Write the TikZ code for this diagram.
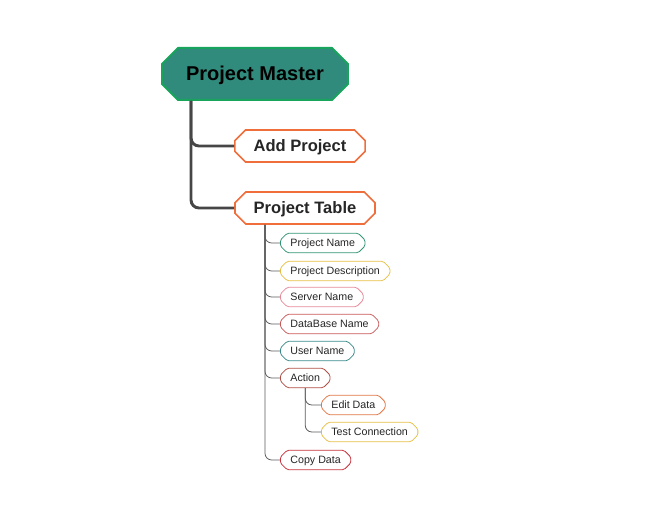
\documentclass[tikz,border=0pt]{standalone}
\usepackage{fontspec}
\setmainfont{Liberation Sans}
\usetikzlibrary{shapes.misc}
\definecolor{masterfill}{RGB}{49,139,124}
\definecolor{masterline}{RGB}{24,164,92}
\definecolor{tangerine}{RGB}{240,110,60}
\definecolor{stem}{RGB}{70,70,70}
\definecolor{twiggray}{RGB}{90,90,90}
\definecolor{jade}{RGB}{52,150,120}
\definecolor{mustard}{RGB}{232,192,70}
\definecolor{rose}{RGB}{232,140,155}
\definecolor{brick}{RGB}{200,90,90}
\definecolor{teal2}{RGB}{60,140,140}
\definecolor{rust}{RGB}{176,80,70}
\definecolor{coral}{RGB}{225,120,70}
\definecolor{crimson}{RGB}{200,50,60}
\tikzset{
  master/.style={chamfered rectangle,chamfered rectangle xsep=6pt,chamfered rectangle ysep=6pt,
    draw=masterline,fill=masterfill,line width=1.5pt,minimum height=39pt,inner xsep=12pt,
    text height=11pt,text depth=0.5pt,font=\fontsize{15}{18}\selectfont\bfseries},
  branch/.style={chamfered rectangle,chamfered rectangle xsep=4pt,chamfered rectangle ysep=4pt,
    draw=tangerine,fill=white,line width=1.2pt,minimum height=24pt,inner xsep=10pt,
    text height=9pt,text depth=0.3pt,font=\fontsize{12.4}{15}\selectfont\bfseries,text=black!85},
  leaf/.style={chamfered rectangle,chamfered rectangle xsep=2.5pt,chamfered rectangle ysep=2.5pt,
    draw=#1,fill=white,line width=0.6pt,rounded corners=1.2pt,minimum height=14.5pt,inner xsep=5pt,inner ysep=1pt,
    text height=6pt,text depth=0.5pt,font=\fontsize{8}{10}\selectfont,text=black!85,anchor=west},
  leaf/.default=jade,
  trunk/.style={draw=stem,line width=2.2pt,rounded corners=6pt},
  twig/.style={draw=twiggray,line width=0.6pt,rounded corners=5pt},
}
\begin{document}
\begin{tikzpicture}[x=0.75pt,y=-0.75pt]
  \useasboundingbox (0,0) rectangle (668,528);
  % top level
  \node[master] (pm) at (255,74) {Project Master};
  \node[branch] (ap) at (300,146) {Add Project};
  \node[branch] (pt) at (305,208) {Project Table};
  \draw[trunk] ([xshift=-48pt]pm.south) |- (ap.west);
  \draw[trunk] ([xshift=-48pt]pm.south) |- (pt.west);
  % table columns
  \node[leaf=jade] (pn) at (280,243) {Project Name};
  \node[leaf=mustard] (pd) at (280,271) {Project Description};
  \node[leaf=rose] (sn) at (280,297) {Server Name};
  \node[leaf=brick] (dn) at (280,324) {DataBase Name};
  \node[leaf=teal2] (un) at (280,351) {User Name};
  \node[leaf=rust] (ac) at (280,378) {Action};
  \node[leaf=coral] (ed) at (321,405) {Edit Data};
  \node[leaf=mustard] (tc) at (321,432) {Test Connection};
  \node[leaf=crimson] (cd) at (280,460) {Copy Data};
  \foreach \n in {pn,pd,sn,dn,un,ac,cd}
    \draw[twig] ([xshift=-30pt]pt.south) |- (\n.west);
  \foreach \n in {ed,tc}
    \draw[twig] (ac.south) |- (\n.west);
\end{tikzpicture}
\end{document}
